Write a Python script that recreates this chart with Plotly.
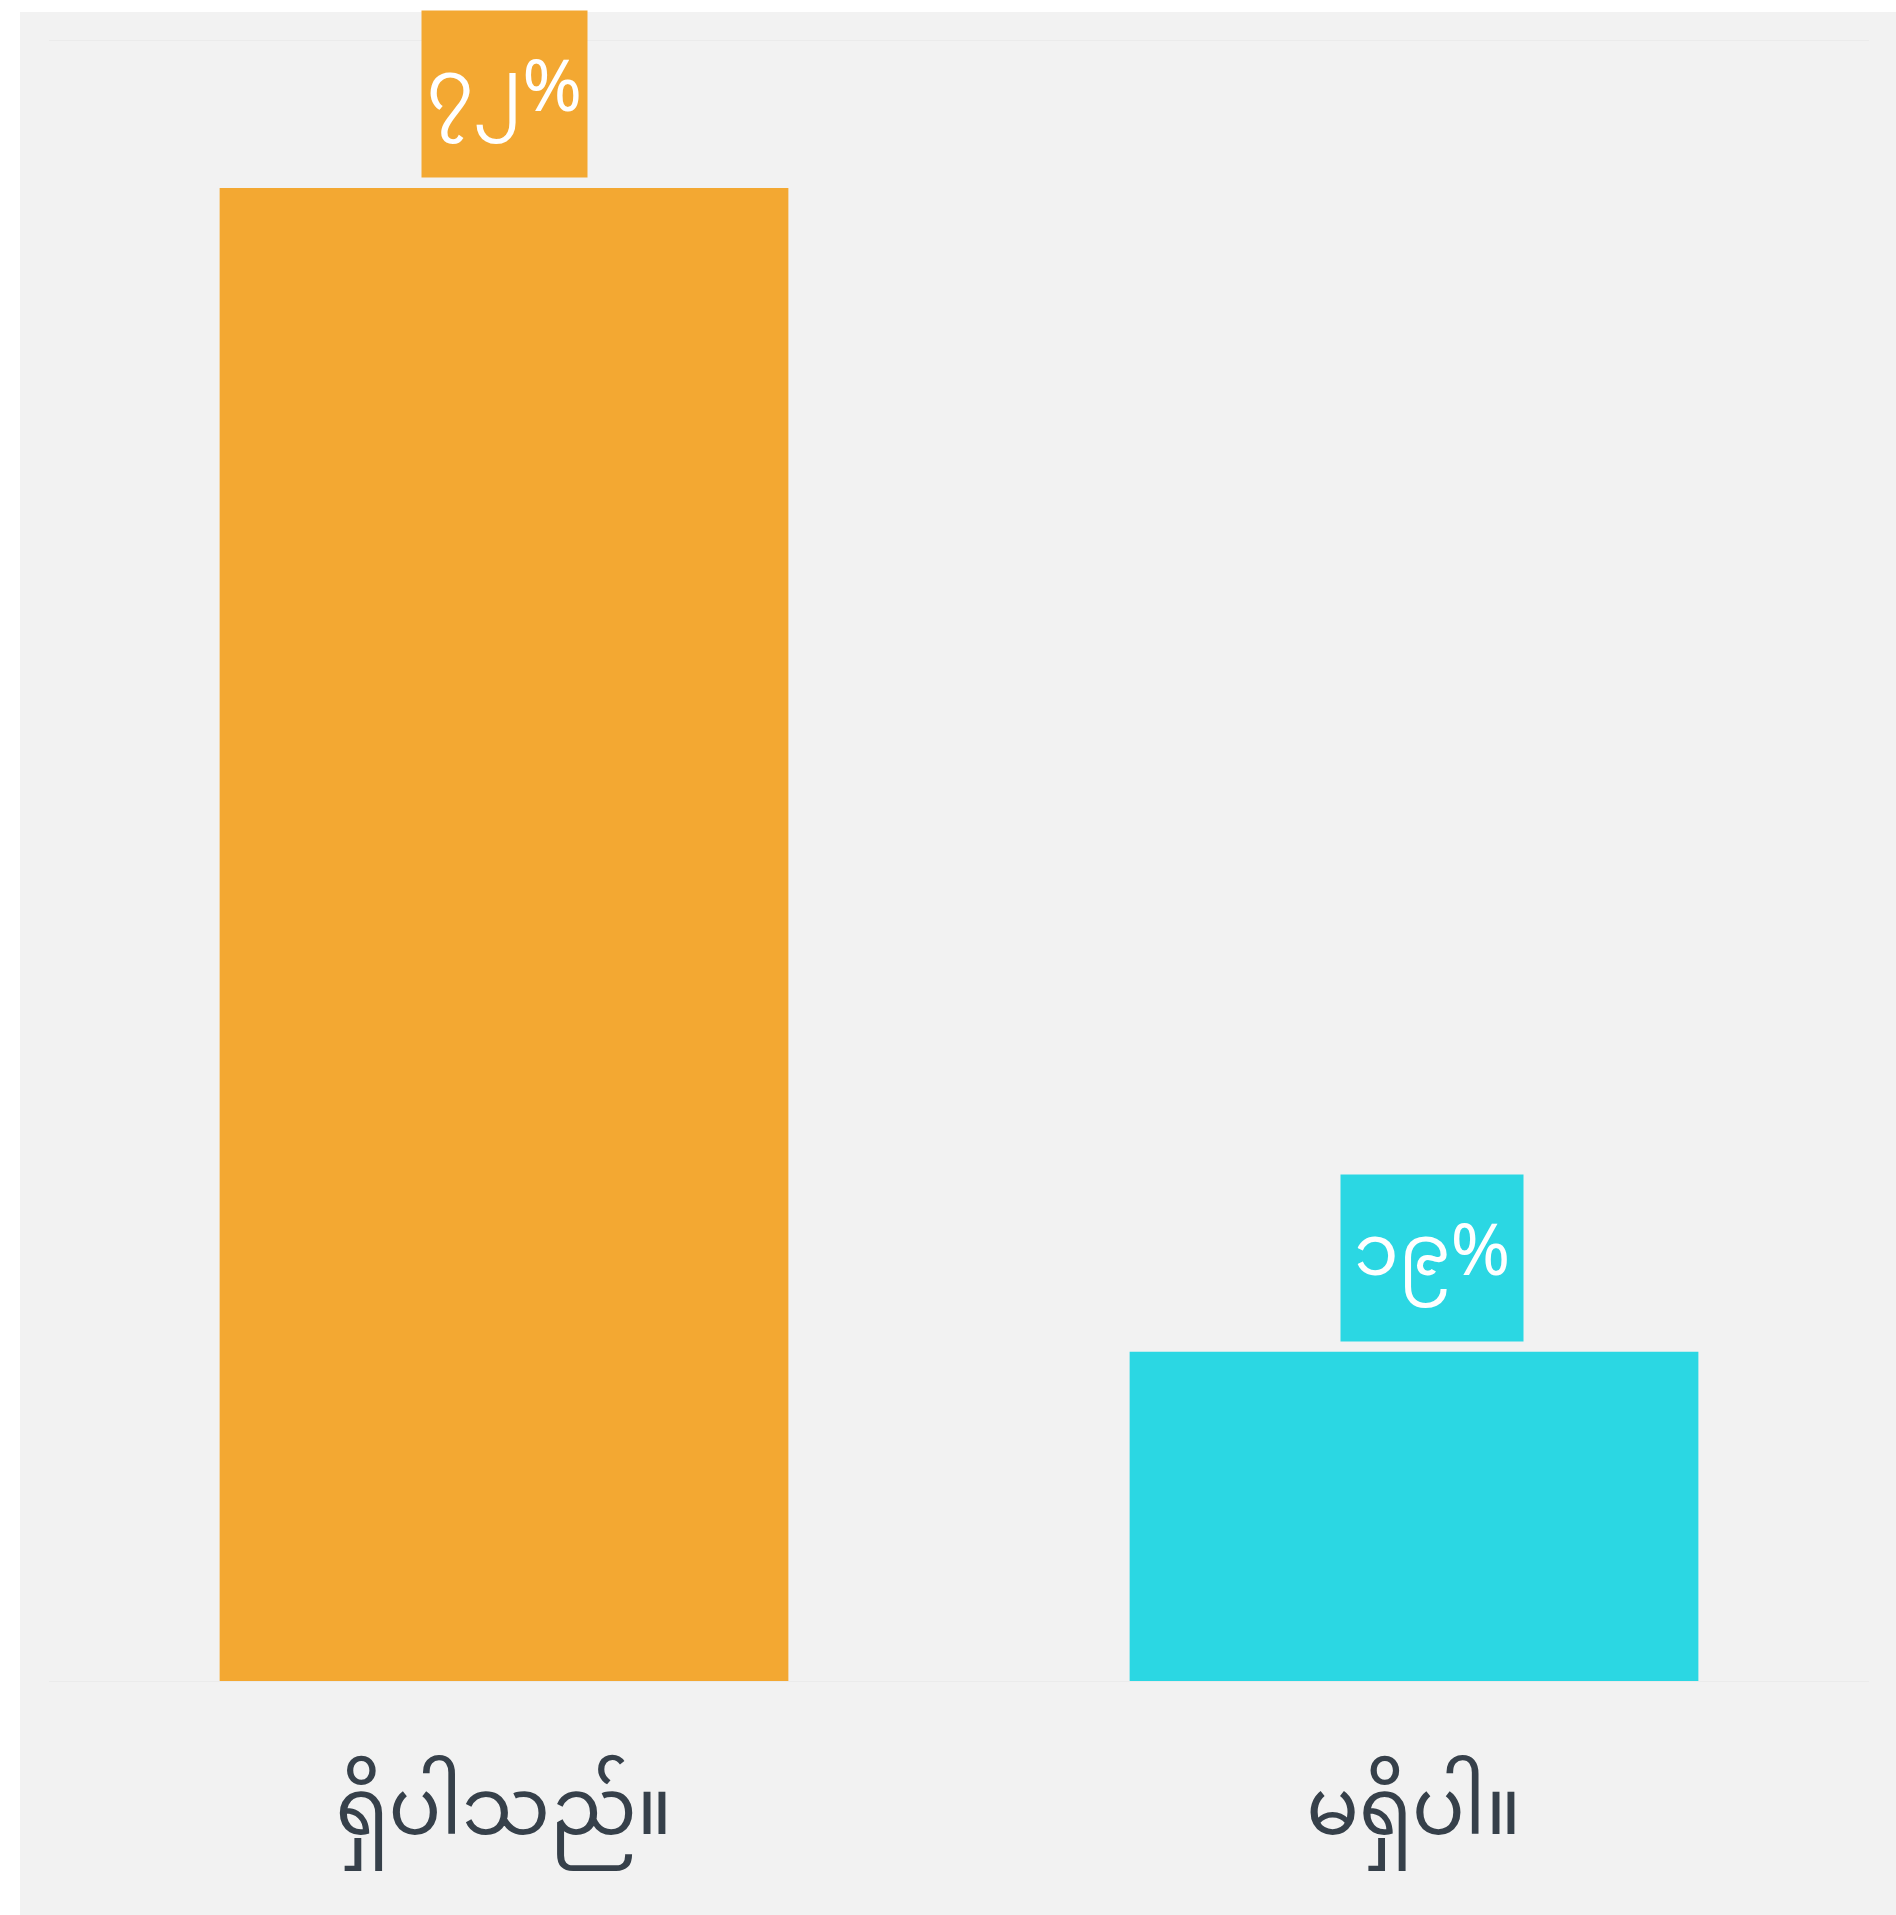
import plotly.graph_objects as go

categories = ["ရှိပါသည်။", "မရှိပါ။"]
values = [72, 19]
value_labels = ["၇၂%", "၁၉%"]
colors = ["#F3A832", "#2BD7E3"]
y_range = [4, 78.7]

W, H = 1896, 1915
L, R, T, B = 49, 27, 41, 234
pw = W - L - R
ph = H - T - B
FONT = "Noto Sans Myanmar, Noto Sans, sans-serif"
label_box_w = [157, 174]
label_xshift = [0, 18]

fig = go.Figure()
fig.add_trace(go.Bar(
    x=categories, y=values, marker=dict(color=colors, line=dict(width=0)),
    hoverinfo="skip",
))

for i, (c, v, lab) in enumerate(zip(categories, values, value_labels)):
    fig.add_annotation(
        x=c, y=v, text=lab, showarrow=False, yanchor="bottom",
        yshift=10, xshift=label_xshift[i],
        font=dict(family=FONT, size=72, color="white"),
        bgcolor=colors[i], borderpad=4, width=label_box_w[i], height=158,
        align="center", valign="middle",
    )

fig.add_shape(
    type="rect", xref="paper", yref="paper", layer="below",
    x0=(20 - L) / pw, x1=(W - L) / pw,
    y0=(T + ph - H) / ph, y1=(T + ph - 12) / ph,
    fillcolor="#F2F2F2", line=dict(width=0),
)

fig.update_layout(
    width=W, height=H, margin=dict(l=L, r=R, t=T, b=B),
    paper_bgcolor="white", plot_bgcolor="#F2F2F2",
    bargap=0.375, showlegend=False,
    font=dict(family=FONT),
)
fig.update_xaxes(
    showline=True, mirror=True, linecolor="#EBEBEB", linewidth=1,
    showgrid=False, zeroline=False, ticks="",
    tickfont=dict(size=78, color="#36404A"), ticklabelstandoff=58,
)
fig.update_yaxes(range=y_range, showgrid=False, zeroline=False,
                 showticklabels=False, ticks="")

fig.write_html("out.html", config={"displayModeBar": False},
               post_script="document.body.style.margin='0';document.body.style.overflow='hidden';")
